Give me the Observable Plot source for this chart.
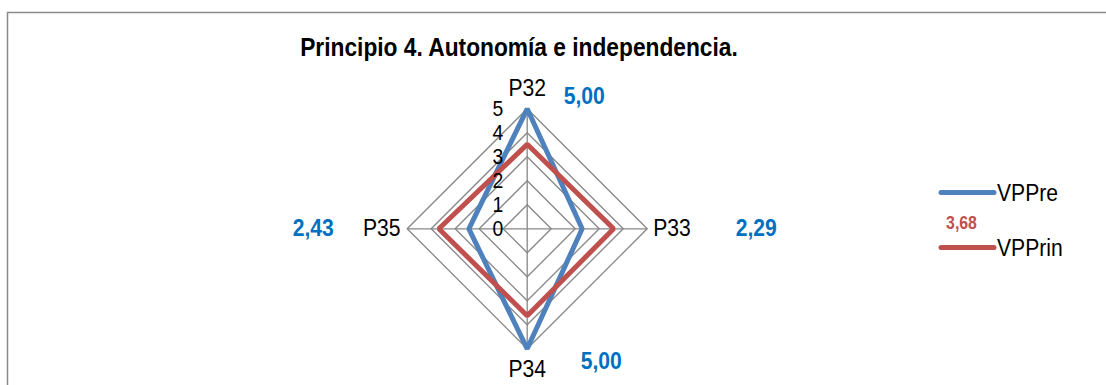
<!DOCTYPE html>
<html>
<head>
<meta charset="utf-8">
<script src="https://cdn.jsdelivr.net/npm/d3@7"></script>
<script src="https://cdn.jsdelivr.net/npm/@observablehq/plot@0.6"></script>
<style>
  html, body { margin: 0; padding: 0; background: #fff; }
  #chart { position: relative; width: 1106px; height: 385px; overflow: hidden; }
  svg text { font-family: "Liberation Sans Narrow", "Arial Narrow", "Liberation Sans", Arial, sans-serif; }
</style>
</head>
<body>
<div id="chart"></div>
<script>
// ---- data ----
const title = "Principio 4. Autonomía e independencia.";
const axesNames = ["P32", "P33", "P34", "P35"];
const seriesNames = ["VPPre", "VPPrin"];
const vppre = [5.00, 2.29, 5.00, 2.43];
const vpprin = [3.52, 3.60, 3.62, 3.68];
const ticks = [0, 1, 2, 3, 4, 5];

// ---- layout ----
const W = 1106, H = 385;
const cx = 526.7, cy = 228.3, k = 24; // center px, px per unit
const colors = {VPPre: "#4F81BD", VPPrin: "#C0504D"};
const fmt = v => v.toFixed(2).replace(".", ",");
const ang = i => (i * Math.PI) / 2; // P32 top, clockwise
const px = (r, i) => r * Math.sin(ang(i));
const py = (r, i) => r * Math.cos(ang(i));

const gridPts = [];
for (const t of ticks.filter(t => t > 0)) axesNames.forEach((a, i) => gridPts.push({t, x: px(t, i), y: py(t, i)}));
const spokes = axesNames.map((a, i) => ({a, x: px(5, i), y: py(5, i)}));
const series = [];
[vppre, vpprin].forEach((vals, s) => vals.forEach((v, i) => series.push({s: seriesNames[s], v, x: px(v, i), y: py(v, i)})));

// data label offsets from the outer ring vertex (px)
const lblOff = [[57, -12], [109, 0], [74, 13], [-94, 0]];
const blueLabels = vppre.map((v, i) => ({
  text: fmt(v),
  x: px(5, i) + lblOff[i][0] / k,
  y: py(5, i) - lblOff[i][1] / k
}));
// axis name offsets
const nameOff = [[0, -20, "middle"], [6, 0, "start"], [0, 21, "middle"], [-6.7, 0, "end"]];
const names = axesNames.map((a, i) => ({a, x: px(5, i) + nameOff[i][0] / k, y: py(5, i) - nameOff[i][1] / k, anchor: nameOff[i][2]}));

const plot = Plot.plot({
  width: W, height: H,
  marginTop: 0, marginRight: 0, marginBottom: 0, marginLeft: 0,
  x: {domain: [-cx / k, (W - cx) / k], axis: null},
  y: {domain: [(cy - H) / k, cy / k], axis: null},
  style: {background: "#fff"},
  marks: [
    Plot.line(gridPts, {x: "x", y: "y", z: "t", curve: "linear-closed", stroke: "#878787", strokeWidth: 1.3}),
    Plot.link(spokes, {x1: 0, y1: 0, x2: "x", y2: "y", stroke: "#878787", strokeWidth: 1.3}),
    Plot.line(series, {x: "x", y: "y", z: "s", stroke: d => colors[d.s], curve: "linear-closed", strokeWidth: 5, strokeLinejoin: "miter"}),
    Plot.text(ticks, {x: 0, y: d => d, text: d => String(d), textAnchor: "end", dx: -24, fontSize: 22, fill: "#000"}),
    Plot.text(names.filter(d => d.anchor === "middle"), {x: "x", y: "y", text: "a", textAnchor: "middle", fontSize: 24, fill: "#000"}),
    Plot.text(names.filter(d => d.anchor === "start"), {x: "x", y: "y", text: "a", textAnchor: "start", fontSize: 24, fill: "#000"}),
    Plot.text(names.filter(d => d.anchor === "end"), {x: "x", y: "y", text: "a", textAnchor: "end", fontSize: 24, fill: "#000"}),
    Plot.text(blueLabels, {x: "x", y: "y", text: "text", textAnchor: "middle", fontSize: 24, fontWeight: "bold", fill: "#0070C0"}),
    Plot.text([fmt(vpprin[3])], {frameAnchor: "left", dx: 961, dy: 223 - H / 2, text: d => d, textAnchor: "middle", fontSize: 18, fontWeight: "bold", fill: "#C0504D"}),
    Plot.text([title], {frameAnchor: "top-left", dx: 518.5, dy: 47, text: d => d, textAnchor: "middle", lineAnchor: "middle", fontSize: 25, fontWeight: "bold", fill: "#000", className: "ttl"})
  ]
});

// border + legend
const svg = d3.select(plot);
svg.append("path").attr("d", `M7.5,${H} V12.5 H${W}`).attr("fill", "none").attr("stroke", "#8a8a8a").attr("stroke-width", 1.5);
const leg = svg.append("g");
seriesNames.forEach((n, i) => {
  const y = [192.5, 247.5][i];
  leg.append("line").attr("x1", 941).attr("x2", 994).attr("y1", y).attr("y2", y)
    .attr("stroke", colors[n]).attr("stroke-width", 5).attr("stroke-linecap", "round");
  leg.append("text").attr("transform", `translate(997,${y})`).attr("dy", "0.35em")
    .attr("text-anchor", "start").attr("font-size", 24).attr("fill", "#000").text(n);
});
// emulate the narrow font by compressing glyphs horizontally about each anchor
svg.selectAll("text").each(function () {
  const isTitle = this.closest(".ttl") !== null;
  const t = this.getAttribute("transform") || "";
  this.setAttribute("transform", `${t} scale(${isTitle ? 0.91 : 0.88},1)`);
});
document.getElementById("chart").appendChild(plot);
</script>
</body>
</html>
